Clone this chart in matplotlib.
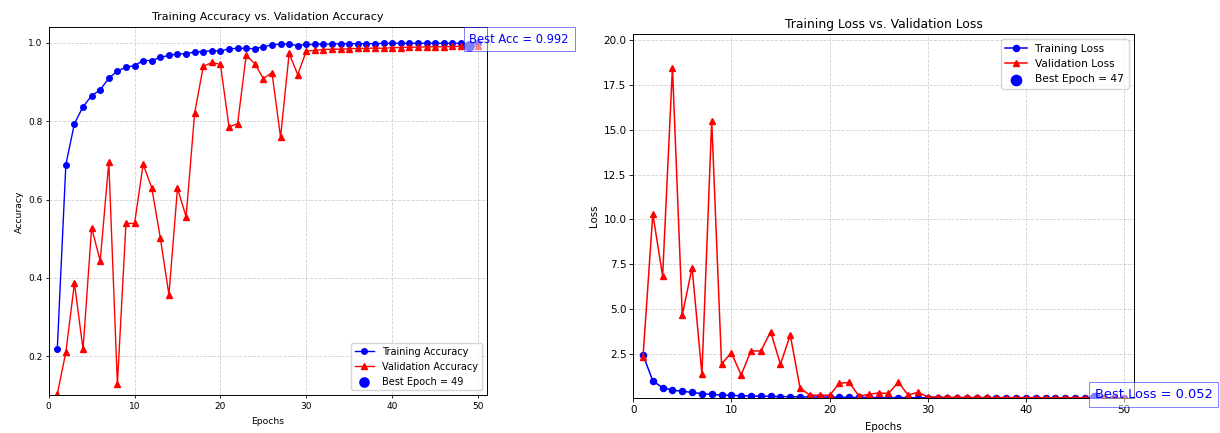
import matplotlib
matplotlib.use("Agg")
import matplotlib.pyplot as plt

# values
epochs = list(range(1, 51))

train_acc = [0.217, 0.689, 0.794, 0.837, 0.865, 0.880, 0.910, 0.928, 0.938, 0.942,
             0.955, 0.955, 0.963, 0.968, 0.972, 0.972, 0.977, 0.978, 0.980, 0.979,
             0.985, 0.986, 0.986, 0.985, 0.990, 0.995, 0.997, 0.997, 0.993, 0.996,
             0.996, 0.997, 0.997, 0.998, 0.998, 0.998, 0.998, 0.998, 0.999, 0.999,
             0.999, 0.999, 0.999, 0.999, 0.999, 0.999, 0.999, 0.999, 0.998, 0.999]
val_acc = [0.103, 0.210, 0.387, 0.217, 0.528, 0.443, 0.696, 0.128, 0.539, 0.539,
           0.690, 0.630, 0.502, 0.357, 0.629, 0.556, 0.821, 0.940, 0.950, 0.945,
           0.785, 0.794, 0.968, 0.947, 0.909, 0.924, 0.759, 0.973, 0.919, 0.979,
           0.981, 0.983, 0.984, 0.984, 0.985, 0.986, 0.986, 0.987, 0.986, 0.988,
           0.988, 0.989, 0.989, 0.990, 0.990, 0.990, 0.991, 0.991, 0.992, 0.991]

train_loss = [2.45, 1.00, 0.62, 0.49, 0.42, 0.36, 0.29, 0.25, 0.21, 0.20,
              0.17, 0.16, 0.15, 0.14, 0.13, 0.12, 0.11, 0.10, 0.10, 0.09,
              0.09, 0.08, 0.08, 0.08, 0.07, 0.07, 0.07, 0.07, 0.06, 0.06,
              0.06, 0.06, 0.06, 0.06, 0.06, 0.05, 0.05, 0.05, 0.05, 0.05,
              0.05, 0.05, 0.05, 0.05, 0.05, 0.05, 0.05, 0.05, 0.05, 0.05]
val_loss = [2.32, 10.30, 6.85, 18.46, 4.67, 7.31, 1.38, 15.50, 1.94, 2.57,
            1.33, 2.68, 2.66, 3.74, 1.93, 3.56, 0.59, 0.21, 0.20, 0.20,
            0.86, 0.92, 0.15, 0.25, 0.33, 0.30, 0.93, 0.22, 0.36, 0.12,
            0.10, 0.09, 0.09, 0.08, 0.08, 0.08, 0.07, 0.07, 0.07, 0.07,
            0.07, 0.06, 0.06, 0.06, 0.06, 0.06, 0.052, 0.06, 0.06, 0.06]

best_acc_epoch = 49
best_acc = 0.992
best_loss_epoch = 47
best_loss = 0.052

fig = plt.figure(figsize=(12.2, 4.33), dpi=100)

#---accuracy panel
ax1 = fig.add_axes([0.0399, 0.0871, 0.359, 0.850])
ax1.plot(epochs, train_acc, 'b-o', lw=1.0, ms=4.0, label='Training Accuracy')
ax1.plot(epochs, val_acc, 'r-^', lw=1.0, ms=4.0, label='Validation Accuracy')
ax1.scatter(best_acc_epoch, best_acc, s=44, color='blue', zorder=3,
            label=f'Best Epoch = {best_acc_epoch}')
ax1.text(best_acc_epoch, best_acc + 0.008, f'Best Acc = {best_acc:.3f}', fontsize=8.3, color='blue',
         bbox=dict(facecolor='white', alpha=0.5, edgecolor='blue', linewidth=0.7))
ax1.set_title('Training Accuracy vs. Validation Accuracy', fontsize=8.0, pad=5.5)
ax1.set_xlabel('Epochs', fontsize=6.7, labelpad=5)
ax1.set_ylabel('Accuracy', fontsize=6.7, labelpad=3)
ax1.set_xlim(0, 51)
ax1.set_ylim(0.1, 1.04)
ax1.tick_params(labelsize=6.5, length=2.5, width=0.6, pad=2)
ax1.grid(True, linestyle='--', alpha=0.6, lw=0.6)
ax1.legend(loc='lower right', fontsize=7.0)
for s in ax1.spines.values():
    s.set_linewidth(0.7)

#---loss panel
ax2 = fig.add_axes([0.519, 0.0801, 0.4104, 0.8413])
ax2.plot(epochs, train_loss, 'b-o', lw=1.1, ms=4.4, label='Training Loss')
ax2.plot(epochs, val_loss, 'r-^', lw=1.1, ms=4.4, label='Validation Loss')
ax2.scatter(best_loss_epoch, best_loss, s=55, color='blue', zorder=3,
            label=f'Best Epoch = {best_loss_epoch}')
ax2.text(best_loss_epoch, best_loss, f'Best Loss = {best_loss:.3f}', fontsize=9.4, color='blue',
         bbox=dict(facecolor='white', alpha=0.5, edgecolor='blue', linewidth=0.7))
ax2.set_title('Training Loss vs. Validation Loss', fontsize=8.9, pad=4.5)
ax2.set_xlabel('Epochs', fontsize=7.4, labelpad=5)
ax2.set_ylabel('Loss', fontsize=7.4, labelpad=3)
ax2.set_xlim(0, 51)
ax2.set_ylim(0.03, 20.33)
ax2.set_yticks([2.5, 5.0, 7.5, 10.0, 12.5, 15.0, 17.5, 20.0])
ax2.tick_params(labelsize=7.5, length=2.8, width=0.6, pad=2)
ax2.grid(True, linestyle='--', alpha=0.6, lw=0.6)
ax2.legend(loc='upper right', fontsize=7.7)
for s in ax2.spines.values():
    s.set_linewidth(0.7)

fig.savefig('out.png', dpi=100)
